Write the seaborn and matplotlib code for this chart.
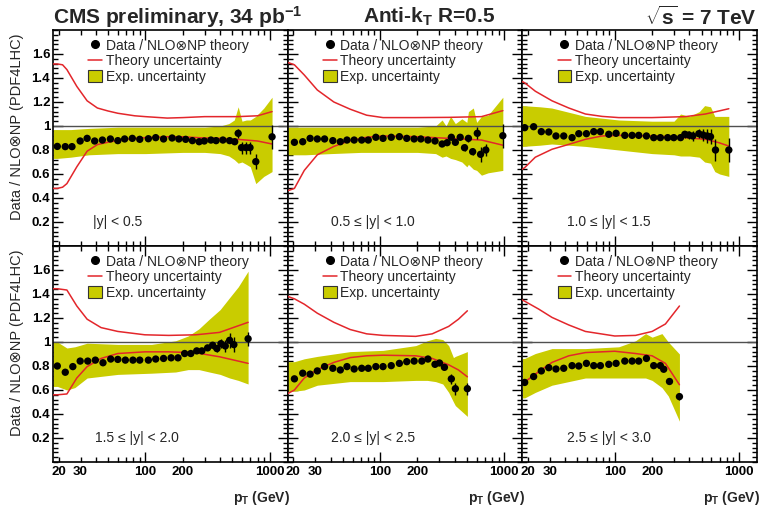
import numpy as np
import pandas as pd
import seaborn as sns
import matplotlib
matplotlib.use("Agg")
import matplotlib.pyplot as plt
from matplotlib.lines import Line2D
from matplotlib.patches import Patch
from matplotlib.ticker import FixedLocator, FixedFormatter, FuncFormatter, LogLocator, AutoMinorLocator, NullFormatter

# ---------------- data ----------------
panel_labels = ["|y| < 0.5", "0.5 \u2264 |y| < 1.0", "1.0 \u2264 |y| < 1.5",
                "1.5 \u2264 |y| < 2.0", "2.0 \u2264 |y| < 2.5", "2.5 \u2264 |y| < 3.0"]

# data points (pT, ratio, stat error)
pt1 = [19.5, 22.6, 25.6, 29.8, 33.9, 39.0, 45.0, 52.2, 59.9, 68.0, 78.4, 90.0, 105.6, 121, 140, 164, 186, 211, 239, 271,
       298, 337, 371, 421, 477, 524, 559, 595, 646, 696, 775, 1048]
r1 = [0.83, 0.828, 0.828, 0.875, 0.897, 0.875, 0.883, 0.892, 0.878, 0.892, 0.897, 0.889, 0.894, 0.903, 0.892, 0.9, 0.892, 0.889, 0.878, 0.869,
      0.875, 0.883, 0.878, 0.883, 0.878, 0.869, 0.939, 0.82, 0.82, 0.82, 0.703, 0.91]
e1 = [0.008, 0.008, 0.008, 0.008, 0.008, 0.008, 0.008, 0.008, 0.008, 0.008, 0.008, 0.008, 0.008, 0.008, 0.008, 0.008, 0.008, 0.008, 0.008, 0.01,
      0.012, 0.012, 0.015, 0.015, 0.02, 0.02, 0.04, 0.05, 0.05, 0.05, 0.06, 0.1]

pt2 = [20.4, 23.8, 27.3, 31.2, 35.7, 41.6, 47.8, 54.1, 61.8, 71.1, 80.3, 92.4, 105.6, 123, 143, 164, 188, 213, 243, 277,
       316, 347, 375, 404, 442, 479, 515, 557, 607, 645, 711, 975]
r2 = [0.864, 0.869, 0.897, 0.892, 0.892, 0.878, 0.869, 0.883, 0.883, 0.883, 0.883, 0.906, 0.897, 0.906, 0.911, 0.897, 0.892, 0.892, 0.883, 0.875,
      0.85, 0.861, 0.906, 0.864, 0.906, 0.819, 0.897, 0.786, 0.939, 0.764, 0.8, 0.919]
e2 = [0.008, 0.008, 0.008, 0.008, 0.008, 0.008, 0.008, 0.008, 0.008, 0.008, 0.008, 0.008, 0.008, 0.008, 0.008, 0.008, 0.008, 0.008, 0.01, 0.01,
      0.012, 0.012, 0.015, 0.015, 0.02, 0.03, 0.03, 0.03, 0.05, 0.06, 0.05, 0.1]

pt3 = [18.8, 22.2, 25.6, 29.4, 33.6, 38.8, 45.3, 51.3, 59.1, 67.7, 76.6, 89.5, 102.5, 120.5, 138, 156, 180, 206, 233, 267,
       299, 339, 367, 395, 425, 476, 515, 556, 591, 648, 830]
r3 = [0.986, 0.994, 0.953, 0.95, 0.917, 0.917, 0.903, 0.936, 0.936, 0.953, 0.953, 0.931, 0.939, 0.922, 0.922, 0.922, 0.917, 0.903, 0.903, 0.903,
      0.903, 0.903, 0.931, 0.925, 0.917, 0.936, 0.925, 0.917, 0.911, 0.8, 0.8]
e3 = [0.008, 0.008, 0.008, 0.008, 0.008, 0.008, 0.008, 0.008, 0.008, 0.008, 0.008, 0.008, 0.008, 0.008, 0.008, 0.008, 0.008, 0.01, 0.01, 0.012,
      0.015, 0.02, 0.03, 0.03, 0.04, 0.04, 0.05, 0.06, 0.06, 0.09, 0.1]

pt4 = [19.5, 22.6, 26.0, 29.8, 34.3, 39.5, 45.5, 52.5, 59.9, 68.9, 79.3, 90, 105.6, 121, 140, 161, 183, 207, 232, 259,
       285, 317, 348, 377, 406, 440, 477, 516, 672]
r4 = [0.80, 0.748, 0.795, 0.841, 0.841, 0.849, 0.827, 0.858, 0.855, 0.849, 0.849, 0.849, 0.849, 0.858, 0.863, 0.868, 0.868, 0.904, 0.904, 0.926,
      0.926, 0.951, 0.973, 0.945, 0.986, 0.967, 1.014, 0.978, 1.027]
e4 = [0.008, 0.008, 0.008, 0.008, 0.008, 0.008, 0.008, 0.008, 0.008, 0.008, 0.008, 0.008, 0.008, 0.008, 0.008, 0.008, 0.01, 0.01, 0.012, 0.015,
      0.015, 0.02, 0.03, 0.03, 0.04, 0.05, 0.06, 0.06, 0.06]

pt5 = [20.4, 23.8, 27.3, 31.2, 35.7, 41.6, 47.8, 54.1, 61.8, 71.1, 80.3, 92.4, 105.6, 123, 143, 164, 188, 217, 243, 277,
       301, 330, 375, 404, 505]
r5 = [0.693, 0.74, 0.732, 0.759, 0.795, 0.781, 0.767, 0.795, 0.775, 0.781, 0.781, 0.795, 0.795, 0.803, 0.822, 0.836, 0.841, 0.841, 0.858, 0.814,
      0.825, 0.789, 0.693, 0.611, 0.611]
e5 = [0.008, 0.008, 0.008, 0.008, 0.008, 0.008, 0.008, 0.008, 0.008, 0.008, 0.008, 0.008, 0.008, 0.008, 0.008, 0.01, 0.01, 0.012, 0.012, 0.015,
      0.015, 0.02, 0.04, 0.05, 0.05]

pt6 = [18.8, 22.2, 25.6, 29.4, 33.6, 38.8, 45.3, 51.3, 59.1, 67.7, 76.6, 89.5, 102.5, 120.5, 138, 156, 180, 206, 233, 248,
       276, 332]
r6 = [0.663, 0.712, 0.759, 0.786, 0.775, 0.781, 0.803, 0.8, 0.822, 0.803, 0.803, 0.814, 0.822, 0.841, 0.841, 0.841, 0.863, 0.803, 0.803, 0.773,
      0.671, 0.545]
e6 = [0.008, 0.008, 0.008, 0.008, 0.008, 0.008, 0.008, 0.008, 0.008, 0.008, 0.008, 0.008, 0.008, 0.01, 0.01, 0.01, 0.012, 0.012, 0.015, 0.015,
      0.02, 0.03]

# experimental uncertainty band (pT, low, high)
bpt1 = [18, 19.5, 25, 35, 60, 100, 200, 300, 400, 470, 520, 559, 600, 650, 700, 775, 900, 1048]
blo1 = [0.73, 0.73, 0.74, 0.76, 0.77, 0.77, 0.78, 0.78, 0.77, 0.75, 0.72, 0.69, 0.70, 0.68, 0.66, 0.52, 0.58, 0.62]
bhi1 = [0.97, 0.97, 0.97, 0.98, 0.99, 0.99, 0.99, 0.99, 1.0, 1.02, 1.05, 1.16, 1.04, 1.05, 1.05, 1.08, 1.15, 1.24]

bpt2 = [18, 19, 25, 40, 70, 100, 200, 280, 316, 340, 370, 404, 456, 500, 515, 564, 600, 656, 742, 975]
blo2 = [0.76, 0.76, 0.76, 0.77, 0.78, 0.78, 0.78, 0.77, 0.74, 0.75, 0.73, 0.72, 0.70, 0.66, 0.68, 0.64, 0.63, 0.59, 0.61, 0.63]
bhi2 = [0.99, 0.99, 0.99, 0.99, 0.99, 0.99, 0.99, 1.0, 1.05, 1.0, 1.08, 1.02, 1.06, 1.03, 1.12, 1.15, 1.03, 1.08, 1.09, 1.24]

bpt3 = [18, 25, 31, 58, 108, 200, 300, 339, 400, 480, 530, 591, 640, 700, 830]
blo3 = [0.83, 0.84, 0.85, 0.83, 0.80, 0.77, 0.76, 0.75, 0.75, 0.74, 0.70, 0.69, 0.62, 0.60, 0.58]
bhi3 = [1.17, 1.16, 1.15, 1.08, 1.05, 1.04, 1.04, 1.10, 1.08, 1.12, 1.17, 1.16, 1.08, 1.08, 1.08]

bpt4 = [18, 19.5, 23.3, 27, 33.9, 59.9, 112, 175, 221, 270, 327, 400, 477, 560, 672]
blo4 = [0.63, 0.63, 0.60, 0.62, 0.70, 0.73, 0.74, 0.75, 0.77, 0.77, 0.75, 0.73, 0.70, 0.68, 0.65]
bhi4 = [1.0, 1.0, 0.95, 0.96, 0.99, 0.98, 0.98, 1.01, 1.05, 1.11, 1.19, 1.27, 1.37, 1.46, 1.59]

bpt5 = [18, 20.4, 24.5, 31.2, 57.4, 105.6, 194, 240, 280, 320, 357, 390, 404, 505]
blo5 = [0.59, 0.59, 0.60, 0.64, 0.67, 0.67, 0.68, 0.68, 0.67, 0.65, 0.58, 0.50, 0.47, 0.38]
bhi5 = [0.836, 0.836, 0.86, 0.88, 0.92, 0.93, 0.97, 1.01, 1.03, 1.02, 0.97, 0.87, 0.88, 0.92]

bpt6 = [18, 18.8, 22.9, 31.2, 58, 107.7, 147, 177, 200, 240, 270, 332]
blo6 = [0.534, 0.534, 0.58, 0.64, 0.70, 0.70, 0.70, 0.70, 0.68, 0.62, 0.55, 0.34]
bhi6 = [0.863, 0.863, 0.904, 0.945, 0.945, 0.96, 1.01, 1.07, 1.04, 1.07, 1.0, 0.90]

# theory uncertainty (pT, low, high)
tpt1 = [18, 19.5, 21.5, 23.3, 28, 33.9, 41, 50, 60, 82, 100, 150, 200, 300, 400, 550, 800, 1048]
tlo1 = [0.48, 0.48, 0.49, 0.52, 0.66, 0.79, 0.845, 0.865, 0.88, 0.897, 0.903, 0.91, 0.91, 0.9, 0.897, 0.889, 0.875, 0.85]
thi1 = [1.517, 1.517, 1.51, 1.47, 1.33, 1.21, 1.15, 1.125, 1.106, 1.085, 1.078, 1.066, 1.07, 1.078, 1.078, 1.078, 1.085, 1.12]

tpt2 = [18, 20.4, 24.5, 31.2, 42.4, 57.4, 77.9, 105.6, 194, 357, 656, 975]
tlo2 = [0.46, 0.48, 0.63, 0.76, 0.83, 0.878, 0.906, 0.917, 0.911, 0.897, 0.883, 0.84]
thi2 = [1.53, 1.51, 1.425, 1.30, 1.20, 1.14, 1.09, 1.07, 1.07, 1.072, 1.078, 1.128]

tpt3 = [18, 18.8, 22.9, 31.2, 42.6, 58, 79, 107.7, 200, 371, 538, 690, 830]
tlo3 = [0.64, 0.653, 0.74, 0.806, 0.847, 0.889, 0.917, 0.922, 0.917, 0.903, 0.889, 0.861, 0.833]
thi3 = [1.37, 1.36, 1.29, 1.21, 1.15, 1.10, 1.08, 1.07, 1.07, 1.078, 1.10, 1.125, 1.144]

tpt4 = [18, 19.5, 23.3, 28, 33.9, 43.9, 59.9, 99, 154, 255, 395, 672]
tlo4 = [0.56, 0.56, 0.567, 0.70, 0.795, 0.863, 0.904, 0.918, 0.918, 0.91, 0.877, 0.822]
thi4 = [1.444, 1.444, 1.433, 1.30, 1.19, 1.12, 1.088, 1.06, 1.055, 1.06, 1.08, 1.164]

tpt5 = [18, 20.4, 24.5, 31.2, 42.4, 57.4, 77.9, 105.6, 194, 263, 357, 428, 505]
tlo5 = [0.57, 0.60, 0.70, 0.77, 0.83, 0.87, 0.885, 0.89, 0.885, 0.863, 0.81, 0.767, 0.71]
thi5 = [1.38, 1.36, 1.315, 1.24, 1.164, 1.104, 1.068, 1.055, 1.047, 1.068, 1.13, 1.19, 1.26]

tpt6 = [18, 18.8, 24.4, 31.2, 42.6, 58, 100, 147, 200, 256, 332]
tlo6 = [0.65, 0.666, 0.753, 0.83, 0.885, 0.912, 0.923, 0.904, 0.885, 0.822, 0.644]
thi6 = [1.35, 1.34, 1.274, 1.205, 1.142, 1.088, 1.05, 1.055, 1.088, 1.15, 1.30]

x_tick_major = [100, 1000]
x_tick_minor_labeled = [20, 30, 200]
y_ticks = [0.2, 0.4, 0.6, 0.8, 1.0, 1.2, 1.4, 1.6]
y_ticklabels = ["0.2", "0.4", "0.6", "0.8", "1", "1.2", "1.4", "1.6"]

points = [(pt1, r1, e1), (pt2, r2, e2), (pt3, r3, e3), (pt4, r4, e4), (pt5, r5, e5), (pt6, r6, e6)]
bands = [(bpt1, blo1, bhi1), (bpt2, blo2, bhi2), (bpt3, blo3, bhi3), (bpt4, blo4, bhi4), (bpt5, blo5, bhi5), (bpt6, blo6, bhi6)]
theory = [(tpt1, tlo1, thi1), (tpt2, tlo2, thi2), (tpt3, tlo3, thi3), (tpt4, tlo4, thi4), (tpt5, tlo5, thi5), (tpt6, tlo6, thi6)]

# ---------------- style ----------------
sns.set_style("ticks")
plt.rcParams['font.family'] = ['Liberation Sans', 'DejaVu Sans']
plt.rcParams['mathtext.fontset'] = 'custom'
plt.rcParams['mathtext.rm'] = 'Liberation Sans'
plt.rcParams['mathtext.it'] = 'Liberation Sans:italic'
plt.rcParams['mathtext.bf'] = 'Liberation Sans:bold'

BAND = '#c9cc00'
RED = '#e3262b'

W, H = 761, 507
fig = plt.figure(figsize=(W / 100, H / 100), dpi=100)
gs = fig.add_gridspec(2, 3, left=53 / W, right=757 / W, top=1 - 30 / H, bottom=1 - 462 / H, wspace=0, hspace=0)

label_x = [0.17, 0.185, 0.19, 0.18, 0.185, 0.19]

for i in range(6):
    r, c = divmod(i, 3)
    ax = fig.add_subplot(gs[r, c])
    bx, blo, bhi = bands[i]
    ax.fill_between(bx, blo, bhi, color=BAND, lw=0, zorder=1)
    ax.axhline(1.0, color='#505050', lw=1.0, zorder=2)
    tx, tlo, thi = theory[i]
    tdf = pd.DataFrame({'pt': tx, 'lo': tlo, 'hi': thi})
    sns.lineplot(data=tdf, x='pt', y='hi', ax=ax, color=RED, lw=1.1, zorder=3, sort=True)
    sns.lineplot(data=tdf, x='pt', y='lo', ax=ax, color=RED, lw=1.1, zorder=3, sort=True)
    px, pr, pe = points[i]
    ax.errorbar(px, pr, yerr=pe, fmt='none', ecolor='black', elinewidth=1.0, capsize=0, zorder=4)
    pdf = pd.DataFrame({'pt': px, 'ratio': pr})
    sns.scatterplot(data=pdf, x='pt', y='ratio', ax=ax, color='black', s=28, edgecolor='none', zorder=5)

    ax.set_xscale('log')
    ax.set_xlim(18, 1400)
    ax.set_ylim(0, 1.8)
    ax.set_xlabel('')
    ax.set_ylabel('')

    ax.xaxis.set_major_locator(FixedLocator(x_tick_major))
    ax.xaxis.set_minor_locator(LogLocator(base=10, subs=[2, 3, 4, 5, 6, 7, 8, 9], numticks=20))
    ax.yaxis.set_major_locator(FixedLocator(y_ticks))
    ax.yaxis.set_minor_locator(AutoMinorLocator(5))
    ax.tick_params(which='both', direction='in', top=True, right=True, width=1.0, colors='black')
    ax.tick_params(which='major', length=7)
    ax.tick_params(which='minor', length=3.5)

    if r == 1:
        ax.xaxis.set_major_formatter(FixedFormatter([str(v) for v in x_tick_major]))
        ax.xaxis.set_minor_formatter(FuncFormatter(lambda v, p: str(int(round(v))) if int(round(v)) in x_tick_minor_labeled else ''))
        ax.tick_params(axis='x', which='both', labelsize=9.5, pad=3)
        for lab in ax.get_xticklabels(which='both'):
            lab.set_fontweight('bold')
        ax.text(1.012, -0.165, r'p$_{\mathbf{T}}$ (GeV)', transform=ax.transAxes, ha='right', va='center',
                fontsize=10, fontweight='bold')
    else:
        ax.xaxis.set_major_formatter(NullFormatter())
        ax.xaxis.set_minor_formatter(NullFormatter())

    if c == 0:
        ax.yaxis.set_major_formatter(FixedFormatter(y_ticklabels))
        ax.tick_params(axis='y', labelsize=9.5, pad=2)
        for lab in ax.get_yticklabels():
            lab.set_fontweight('bold')
        ax.set_ylabel('Data / NLO\u2297NP (PDF4LHC)', fontsize=10.5, loc='top')
        ax.yaxis.set_label_coords(-0.125, 0.985)
    else:
        ax.yaxis.set_major_formatter(NullFormatter())

    for sp in ax.spines.values():
        sp.set_linewidth(1.2)
        sp.set_color('black')

    ax.text(label_x[i], 0.2, panel_labels[i], transform=ax.get_yaxis_transform(), ha='left', va='center', fontsize=10)

    handles = [Line2D([], [], marker='o', color='black', ls='none', markersize=5.5),
               Line2D([], [], color=RED, lw=1.1),
               Patch(facecolor=BAND, edgecolor='#333333', lw=0.8)]
    labels = ['Data / NLO\u2297NP theory', 'Theory uncertainty', 'Exp. uncertainty']
    ax.legend(handles, labels, loc='upper left', bbox_to_anchor=(0.15, 0.96), frameon=False, fontsize=10,
              handlelength=1.0, handleheight=0.9, handletextpad=0.25, labelspacing=0.12, borderpad=0, borderaxespad=0)

fig.text(53 / W, 1 - 17 / H, r'CMS preliminary, 34 pb$^{\mathbf{-1}}$', ha='left', va='center', fontsize=15, fontweight='bold')
fig.text(363 / W, 1 - 17 / H, r'Anti-k$_{\mathbf{T}}$ R=0.5', ha='left', va='center', fontsize=15, fontweight='bold')
fig.text(757 / W, 1 - 17 / H, r'$\mathbf{\sqrt{s}}$ = 7 TeV', ha='right', va='center', fontsize=15, fontweight='bold')

fig.savefig('out.png', dpi=100)
